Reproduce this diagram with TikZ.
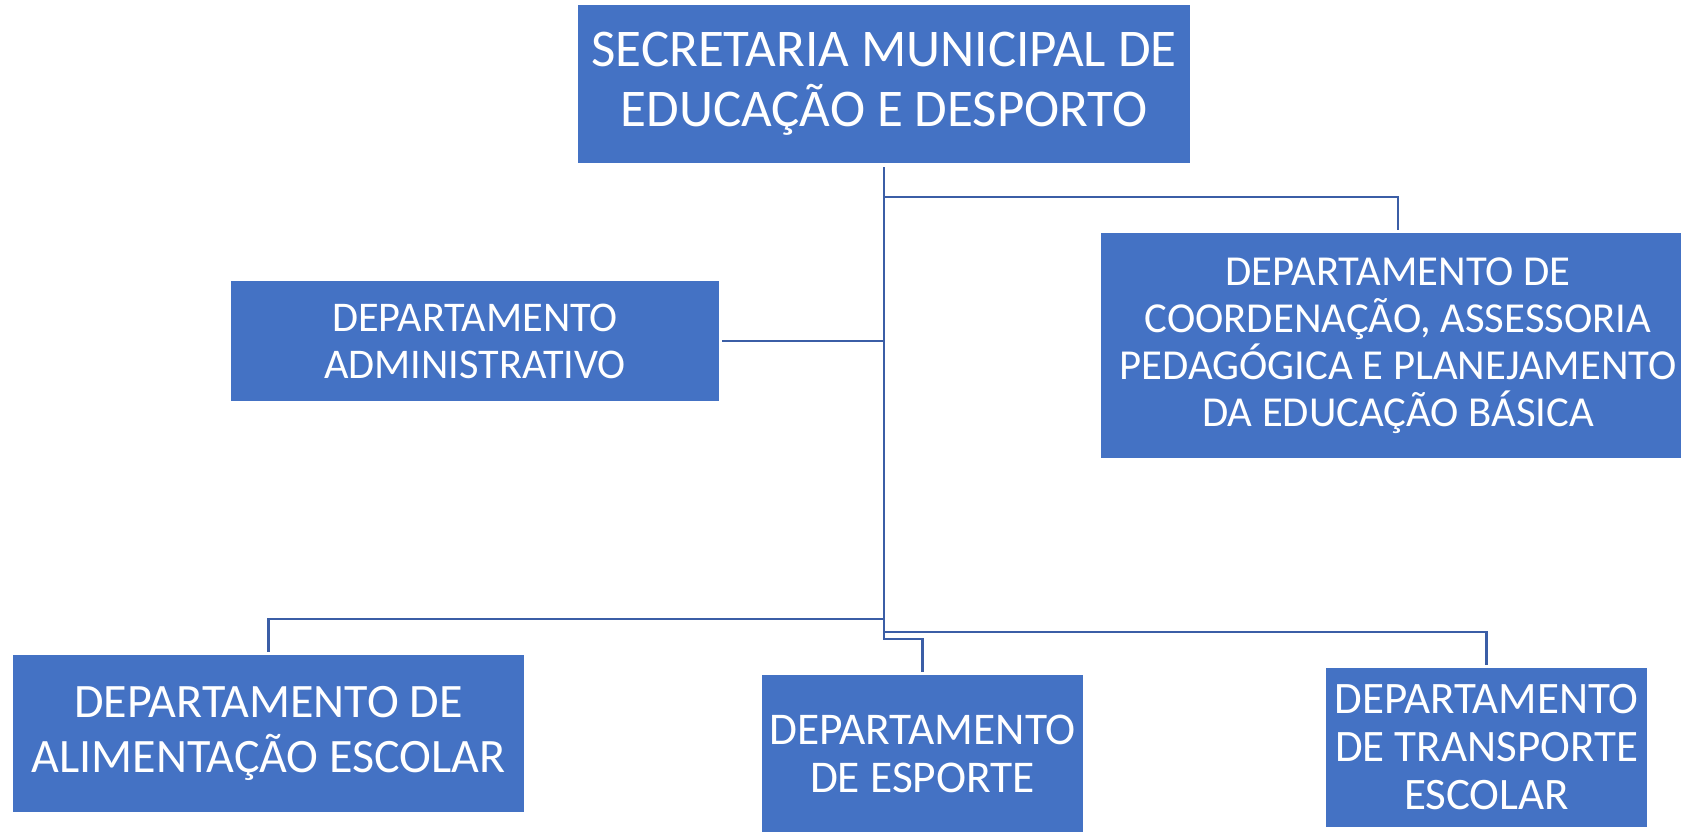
\documentclass[tikz,border=0pt]{standalone}
\usepackage{fontspec}
\setmainfont{Carlito}
\usepackage{tikz}

\definecolor{boxblue}{HTML}{4472C4}
\definecolor{lineblue}{HTML}{3B5EA6}

\begin{document}
\begin{tikzpicture}[
    x=1pt, y=-1pt,
    dept/.style = {rectangle, fill=boxblue, text=white, inner sep=0pt, align=center},
    link/.style = {draw=lineblue, line width=2.5pt, shorten <=4pt, shorten >=3pt}
]
    \path[use as bounding box, fill=white] (0,0) rectangle (1681,832);
    \node[dept, minimum width=612pt, minimum height=158pt, font=\fontsize{53}{60}\selectfont] (sec) at (884,84) {SECRETARIA MUNICIPAL DE \\ EDUCAÇÃO E DESPORTO};
    \node[dept, minimum width=488pt, minimum height=120pt, font=\fontsize{42.3}{47}\selectfont] (adm) at (475,341) {DEPARTAMENTO \\ ADMINISTRATIVO};
    \node[dept, minimum width=594pt, minimum height=225pt, font=\fontsize{42.7}{47}\selectfont] (coord) at (1398,345.5) {DEPARTAMENTO DE \\ COORDENAÇÃO, ASSESSORIA \\ PEDAGÓGICA E PLANEJAMENTO \\ DA EDUCAÇÃO BÁSICA};
    \node[dept, minimum width=511pt, minimum height=157pt, font=\fontsize{48}{55}\selectfont] (alim) at (268.5,733.5) {DEPARTAMENTO DE \\ ALIMENTAÇÃO ESCOLAR};
    \node[dept, minimum width=321pt, minimum height=157pt, font=\fontsize{45.4}{48}\selectfont] (esp) at (922.5,753.5) {DEPARTAMENTO \\ DE ESPORTE};
    \node[dept, minimum width=321pt, minimum height=159pt, font=\fontsize{45}{48}\selectfont] (transp) at (1486.5,747.5) {DEPARTAMENTO \\ DE TRANSPORTE \\ ESCOLAR};
    \coordinate (jcoord) at (884,197);
    \coordinate (jalim) at (884,619);
    \coordinate (jtransp) at (884,632);
    \coordinate (jesp) at (884,639);
    \draw[link] (sec.south) -- (jcoord) -| (coord.north);
    \draw[link] (sec.south) |- (adm.east);
    \draw[link] (sec.south) -- (jalim) -| (alim.north);
    \draw[link] (sec.south) -- (jtransp) -| (transp.north);
    \draw[link] (sec.south) -- (jesp) -| (esp.north);
\end{tikzpicture}
\end{document}
